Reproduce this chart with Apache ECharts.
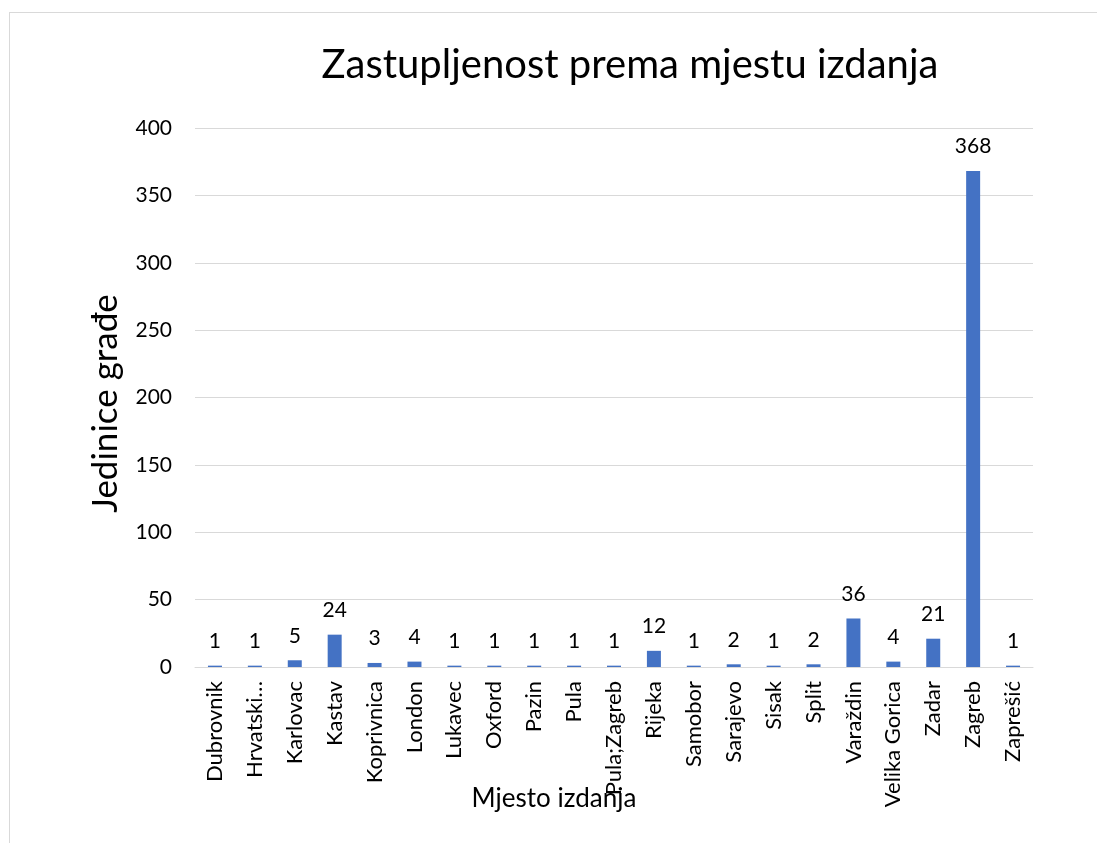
<!DOCTYPE html>
<html><head><meta charset="utf-8">
<script src="https://cdn.jsdelivr.net/npm/echarts@6/dist/echarts.min.js"></script>
<style>
html,body{margin:0;padding:0;background:#fff;}
#frame{position:absolute;left:9px;top:12px;width:1200px;height:1000px;border:1px solid #d9d9d9;box-sizing:border-box;}
#c{position:absolute;left:0;top:0;width:1097px;height:843px;}
</style></head>
<body><div id="frame"></div><div id="c"></div>
<script>
const categories = ["Dubrovnik","Hrvatski…","Karlovac","Kastav","Koprivnica","London","Lukavec","Oxford","Pazin","Pula","Pula;Zagreb","Rijeka","Samobor","Sarajevo","Sisak","Split","Varaždin","Velika Gorica","Zadar","Zagreb","Zaprešić"];
const values = [1,1,5,24,3,4,1,1,1,1,1,12,1,2,1,2,36,4,21,368,1];
const yTicks = [0,50,100,150,200,250,300,350,400];
const titleText = "Zastupljenost prema mjestu izdanja";
const xName = "Mjesto izdanja";
const yName = "Jedinice građe";

const font = "Lato, 'Open Sans', sans-serif";
const chart = echarts.init(document.getElementById('c'));
chart.setOption({
  animation:false,
  backgroundColor:'transparent',
  title:{text:titleText,left:625,top:40,textAlign:'center',
    textStyle:{fontFamily:font,fontSize:40,fontWeight:'normal',color:'#000'}},
  grid:{left:195,right:64,top:128,bottom:176,containLabel:false},
  xAxis:{type:'category',data:categories,
    name:xName,nameLocation:'middle',nameGap:119,nameMoveOverlap:false,
    nameTextStyle:{fontFamily:font,fontSize:26,color:'#000',padding:[0,120,0,0]},
    axisLine:{lineStyle:{color:'#d9d9d9',width:1}},
    axisTick:{show:false},
    axisLabel:{rotate:90,interval:0,fontFamily:font,fontSize:22,color:'#000',margin:14}},
  yAxis:{type:'value',min:yTicks[0],max:yTicks[yTicks.length-1],interval:50,
    name:yName,nameLocation:'middle',nameGap:72,nameMoveOverlap:false,
    nameTextStyle:{fontFamily:font,fontSize:35,color:'#000',padding:[0,12,0,0]},
    axisLine:{show:false},axisTick:{show:false},
    splitLine:{lineStyle:{color:'#d9d9d9',width:1}},
    axisLabel:{fontFamily:font,fontSize:21,color:'#000',margin:23}},
  series:[{type:'bar',data:values,barWidth:14,
    itemStyle:{color:'#4472c4'},
    label:{show:true,position:'top',distance:14,fontFamily:font,fontSize:21,color:'#000'}}]
});
</script></body></html>
